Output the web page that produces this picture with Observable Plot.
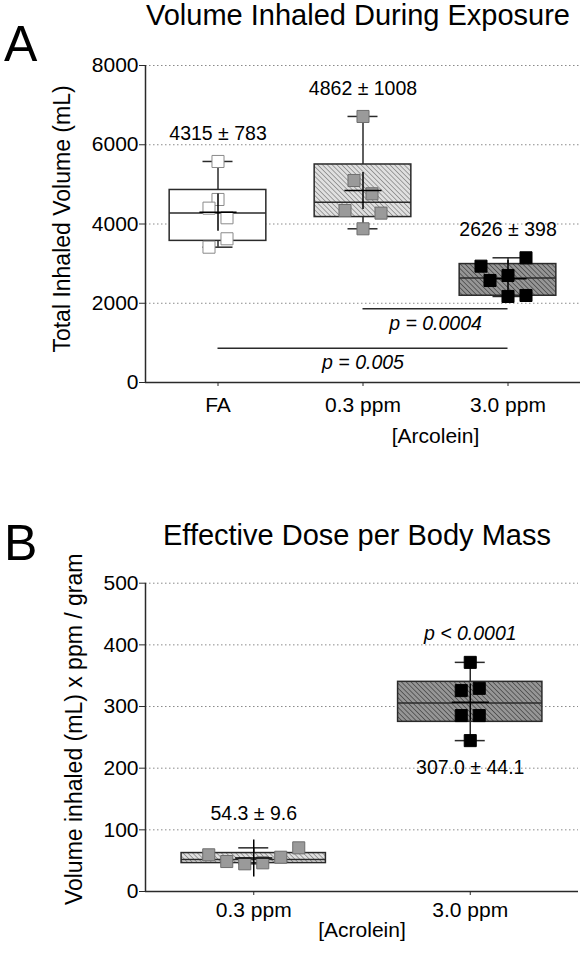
<!DOCTYPE html>
<html><head><meta charset="utf-8">
<script src="https://cdn.jsdelivr.net/npm/d3@7"></script>
<script src="https://cdn.jsdelivr.net/npm/@observablehq/plot@0.6"></script>
<style>
body{margin:0;background:#fff;font-family:"Liberation Sans",Arial,sans-serif;}
#page{position:relative;width:587px;height:953px;overflow:hidden;background:#fff;}
.letter{position:absolute;font-size:50px;line-height:1;color:#000;}
.title{position:absolute;font-size:29px;line-height:1.1;color:#000;white-space:nowrap;}
.panel{position:absolute;left:0;}
#defs{position:absolute;width:0;height:0;}
</style></head><body>
<svg id="defs" width="0" height="0">
  <defs>
    <pattern id="hatchLight" patternUnits="userSpaceOnUse" width="3.4" height="3.4" patternTransform="rotate(-45)">
      <rect width="3.4" height="3.4" fill="#e0e0e0"></rect>
      <line x1="0" y1="0" x2="0" y2="3.4" stroke="#858585" stroke-width="1.5"></line>
    </pattern>
    <pattern id="hatchDark" patternUnits="userSpaceOnUse" width="3.4" height="3.4" patternTransform="rotate(-45)">
      <rect width="3.4" height="3.4" fill="#969696"></rect>
      <line x1="0" y1="0" x2="0" y2="3.4" stroke="#454545" stroke-width="1.5"></line>
    </pattern>
  </defs>
</svg>
<div id="page">
  <div class="letter" style="left:4px;top:19px">A</div>
  <div class="title" style="left:146px;top:0px">Volume Inhaled During Exposure</div>
  <div class="panel" id="pa" style="top:40px"></div>
  <div class="letter" style="left:4px;top:518px">B</div>
  <div class="title" style="left:163px;top:520px">Effective Dose per Body Mass</div>
  <div class="panel" id="pb" style="top:560px"></div>
</div>
<script>
// ---------- Panel A data ----------
const groupsA = ["FA", "0.3 ppm", "3.0 ppm"];
const volumeFA = [5578, 4619, 4400, 4157, 3627, 3415];
const volume03 = [6714, 5098, 4762, 4341, 4274, 3879];
const volume30 = [3147, 2936, 2574, 2701, 2171, 2196];
const slotFA = [0, 0, -1, 1, 1, -1];
const slot03 = [0, -1, 1, -2, 2, 0];
const slot30 = [2, -3, -2, 0, 0, 2];
const summaryA = ["4315 \u00b1 783", "4862 \u00b1 1008", "2626 \u00b1 398"];
const compFrom = [1, 0];
const compTo = [2, 2];
const compY = [1860, 866];
const compLabel = ["p = 0.0004", "p = 0.005"];
const yTicksA = [0, 2000, 4000, 6000, 8000];

// ---------- Panel B data ----------
const groupsB = ["0.3 ppm", "3.0 ppm"];
const dose03 = [59.5, 48.6, 44.9, 46.5, 55.6, 70.8];
const dose30 = [371.6, 325.8, 329.5, 285.3, 285.3, 244.7];
const slotB03 = [-5, -3, -1, 1, 3, 5];
const slotB30 = [0, -1, 1, -1, 1, 0];
const summaryB = ["54.3 \u00b1 9.6", "307.0 \u00b1 44.1"];
const pLabelB = "p < 0.0001";
const yTicksB = [0, 100, 200, 300, 400, 500];

// ---------- helpers ----------
const W = 587, LEFT = 145, SLOT_PX = 9, CAP_PX = 15;
const FONT = '"Liberation Sans", Arial, Helvetica, sans-serif';
const AX = "#2a2a2a";

function q6(s, p) { // Prism-style (n+1)p quantile
  const h = (s.length + 1) * p - 1, lo = Math.floor(h), hi = Math.ceil(h);
  if (lo < 0) return s[0];
  if (hi >= s.length) return s[s.length - 1];
  return s[lo] + (h - lo) * (s[hi] - s[lo]);
}

function boxMarks(sets, slots, boxFills, dotFills, dotStrokes, step) {
  const unit = SLOT_PX / step, hb = 1 / 3, cap = CAP_PX / step;
  const st = sets.map((vals, g) => {
    const s = vals.slice().sort(d3.ascending);
    return {g, min: s[0], q1: q6(s, .25), med: q6(s, .5), q3: q6(s, .75), max: s[s.length - 1], mean: d3.mean(s), box: boxFills[g]};
  });
  const pts = sets.flatMap((vals, g) => vals.map((v, i) => ({g, v, slot: slots[g][i], fill: dotFills[g], stroke: dotStrokes[g]})));
  return {st, marks: [
    Plot.ruleX(st, {x: "g", y1: "q3", y2: "max", stroke: AX, strokeWidth: 1.5}),
    Plot.ruleX(st, {x: "g", y1: "min", y2: "q1", stroke: AX, strokeWidth: 1.5}),
    Plot.ruleY(st, {y: "max", x1: d => d.g - cap, x2: d => d.g + cap, stroke: AX, strokeWidth: 1.5}),
    Plot.ruleY(st, {y: "min", x1: d => d.g - cap, x2: d => d.g + cap, stroke: AX, strokeWidth: 1.5}),
    Plot.rect(st, {x1: d => d.g - hb, x2: d => d.g + hb, y1: "q1", y2: "q3", fill: d => d.box, stroke: AX, strokeWidth: 1.5}),
    Plot.ruleY(st, {y: "med", x1: d => d.g - hb, x2: d => d.g + hb, stroke: AX, strokeWidth: 1.5}),
    Plot.dot(pts, {x: d => d.g + d.slot * unit, y: "v", symbol: "square", r: 6.8, fill: d => d.fill, stroke: d => d.stroke, strokeWidth: 1}),
    Plot.dot(st, {x: "g", y: "mean", symbol: "plus", r: 12, stroke: "#000", strokeWidth: 1.5})
  ]};
}

// ---------- Panel A ----------
{
  const mr = 7, height = 420, mt = 25, mb = 78;
  const step = (W - LEFT - mr) / groupsA.length;
  const {st, marks} = boxMarks([volumeFA, volume03, volume30], [slotFA, slot03, slot30],
    ["#ffffff", "url(#hatchLight)", "url(#hatchDark)"],
    ["#ffffff", "#9a9a9a", "#000000"], ["#8a8a8a", "#6e6e6e", "#000000"], step);
  const comps = compY.map((y, i) => ({from: compFrom[i], to: compTo[i], y, label: compLabel[i]}));
  const svg = Plot.plot({
    width: W, height, marginLeft: LEFT, marginRight: mr, marginTop: mt, marginBottom: mb,
    x: {domain: [-0.5, groupsA.length - 0.5], axis: null},
    y: {domain: [0, 8000], axis: null},
    color: {type: "identity"},
    style: {fontFamily: FONT, fontSize: "21px", color: "#000", background: "transparent", overflow: "visible"},
    marks: [
      Plot.gridY(yTicksA.slice(1), {stroke: "#8a8a8a", strokeOpacity: 1, strokeDasharray: "1.5,2.5"}),
      ...marks,
      Plot.text(st, {x: "g", y: "max", text: d => summaryA[d.g], dy: -28, fontSize: 19.5, fill: "#000"}),
      Plot.ruleY(comps, {y: "y", x1: "from", x2: "to", stroke: AX, strokeWidth: 1.5}),
      Plot.text(comps, {x: d => (d.from + d.to) / 2, y: "y", text: "label", dy: 15, fontSize: 19.5, fontStyle: "italic", fill: "#000"}),
      Plot.ruleX([-0.5], {y1: 0, y2: 8000, stroke: AX, strokeWidth: 1.5}),
      Plot.ruleY([0], {x1: -0.5, x2: groupsA.length - 0.5, stroke: AX, strokeWidth: 1.5}),
      Plot.axisY({ticks: yTicksA, tickFormat: d => String(d), tickSize: 6, tickPadding: 1, label: null, stroke: AX, fill: "#000"}),
      Plot.axisX({ticks: [0, 1, 2], tickFormat: i => groupsA[i], tickSize: 4, tickPadding: 11, label: null, stroke: AX, fill: "#000"}),
      Plot.text(["Total Inhaled Volume (mL)"], {frameAnchor: "left", textAnchor: "middle", rotate: -90, dx: -83, dy: -5, fontSize: 23, fill: "#000"}),
      Plot.text(["[Arcolein]"], {x: () => 1.5, frameAnchor: "bottom", dy: 60, fontSize: 21, fill: "#000"})
    ]
  });
  document.getElementById("pa").appendChild(svg);
}

// ---------- Panel B ----------
{
  const mr = 9, height = 393, mt = 22.7, mb = 62;
  const step = (W - LEFT - mr) / groupsB.length;
  const {st, marks} = boxMarks([dose03, dose30], [slotB03, slotB30],
    ["url(#hatchLight)", "url(#hatchDark)"],
    ["#9a9a9a", "#000000"], ["#6e6e6e", "#000000"], step);
  const svg = Plot.plot({
    width: W, height, marginLeft: LEFT, marginRight: mr, marginTop: mt, marginBottom: mb,
    x: {domain: [-0.5, groupsB.length - 0.5], axis: null},
    y: {domain: [0, 500], axis: null},
    color: {type: "identity"},
    style: {fontFamily: FONT, fontSize: "21px", color: "#000", background: "transparent", overflow: "visible"},
    marks: [
      Plot.gridY(yTicksB.slice(1), {stroke: "#8a8a8a", strokeOpacity: 1, strokeDasharray: "1.5,2.5"}),
      ...marks,
      Plot.text(st.filter(d => d.g === 0), {x: "g", y: "max", text: d => summaryB[d.g], dy: -34, fontSize: 19.5, fill: "#000"}),
      Plot.text(st.filter(d => d.g === 1), {x: "g", y: "min", text: d => summaryB[d.g], dy: 27, fontSize: 19.5, fill: "#000"}),
      Plot.text(st.filter(d => d.g === 1), {x: "g", y: "max", text: () => pLabelB, dy: -29, fontSize: 19.5, fontStyle: "italic", fill: "#000"}),
      Plot.ruleX([-0.5], {y1: 0, y2: 500, stroke: AX, strokeWidth: 1.5}),
      Plot.ruleY([0], {x1: -0.5, x2: groupsB.length - 0.5, stroke: AX, strokeWidth: 1.5}),
      Plot.axisY({ticks: yTicksB, tickFormat: d => String(d), tickSize: 6, tickPadding: 1, label: null, stroke: AX, fill: "#000"}),
      Plot.axisX({ticks: [0, 1], tickFormat: i => groupsB[i], tickSize: 4, tickPadding: 7, label: null, stroke: AX, fill: "#000"}),
      Plot.text(["Volume inhaled (mL) x ppm / gram"], {frameAnchor: "left", textAnchor: "middle", rotate: -90, dx: -71, dy: -8, fontSize: 23, fill: "#000"}),
      Plot.text(["[Acrolein]"], {x: () => 0.5, frameAnchor: "bottom", dy: 45, fontSize: 21, fill: "#000"})
    ]
  });
  document.getElementById("pb").appendChild(svg);
}
</script>
</body></html>
